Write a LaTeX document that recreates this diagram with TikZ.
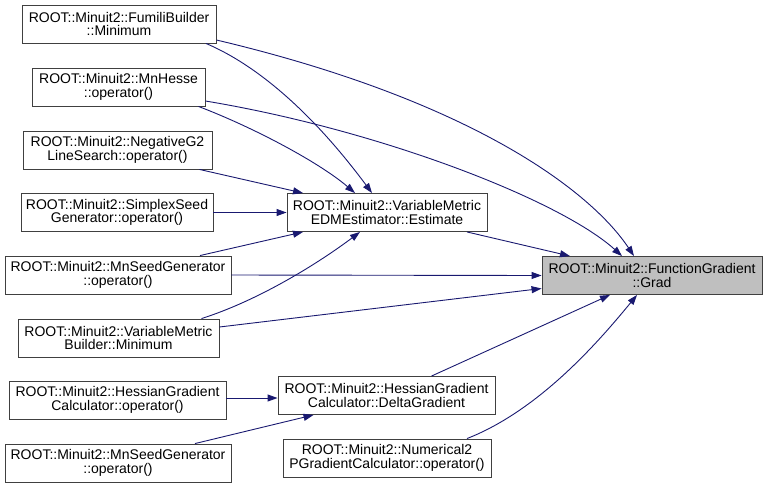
\documentclass[tikz,border=0pt]{standalone}
\usepackage{fontspec}
\setmainfont{Liberation Sans}
\usepackage{tikz}
\usetikzlibrary{arrows.meta,positioning,calc}
\definecolor{edgeblue}{HTML}{191970}
\definecolor{boxline}{HTML}{404040}
\definecolor{focusgray}{HTML}{BFBFBF}

\begin{document}
\begin{tikzpicture}[
    x=1pt, y=-1pt,
    box/.style={rectangle, draw=boxline, fill=white, line width=0.9pt, minimum height=38pt, inner sep=0pt, align=center, font=\fontsize{14}{13.5}\selectfont},
    focus/.style={box, fill=focusgray},
    arrow/.style={-{Triangle[length=10pt, width=7pt]}, draw=edgeblue, line width=0.9pt}
]
    \useasboundingbox (0,0) rectangle (766,488);

    \node[box, minimum width=194pt] (fumili) at (119,24) {ROOT::Minuit2::FumiliBuilder\\::Minimum};
    \node[box, minimum width=173pt] (hesse) at (118.5,87) {ROOT::Minuit2::MnHesse\\::operator()};
    \node[box, minimum width=189pt] (negg2) at (117.5,150) {ROOT::Minuit2::NegativeG2\\LineSearch::operator()};
    \node[box, minimum width=192pt] (simplex) at (117,212.5) {ROOT::Minuit2::SimplexSeed\\Generator::operator()};
    \node[box, minimum width=226pt] (seedA) at (118,275) {ROOT::Minuit2::MnSeedGenerator\\::operator()};
    \node[box, minimum width=201pt] (vmb) at (118.5,338) {ROOT::Minuit2::VariableMetric\\Builder::Minimum};
    \node[box, minimum width=217pt] (hgcop) at (117.5,400) {ROOT::Minuit2::HessianGradient\\Calculator::operator()};
    \node[box, minimum width=226pt] (seedB) at (118,463) {ROOT::Minuit2::MnSeedGenerator\\::operator()};

    \node[box, minimum width=200pt] (vme) at (387,212.5) {ROOT::Minuit2::VariableMetric\\EDMEstimator::Estimate};
    \node[box, minimum width=217pt] (delta) at (386.5,395.5) {ROOT::Minuit2::HessianGradient\\Calculator::DeltaGradient};
    \node[box, minimum width=208pt] (num2) at (387,458) {ROOT::Minuit2::Numerical2\\PGradientCalculator::operator()};

    \node[focus, minimum width=220pt] (grad) at (652,275.5) {ROOT::Minuit2::FunctionGradient\\::Grad};

    \draw[arrow] ([yshift=-16pt]fumili.east) .. controls (470,100) and (590,190) .. ([xshift=-18pt]grad.north);
    \draw[arrow] ([xshift=87pt]fumili.south) .. controls (280,75) and (340,150) .. ([xshift=-15pt]vme.north);
    \draw[arrow] ([yshift=-14pt]hesse.east) .. controls (380,130) and (560,200) .. ([xshift=-30pt]grad.north);
    \draw[arrow] ([xshift=80pt]hesse.south) .. controls (255,128) and (320,163) .. ([xshift=-32pt]vme.north);
    \draw[arrow] ([xshift=82pt]negg2.south) -- ([xshift=-84pt]vme.north);
    \draw[arrow] (simplex.east) -- (vme.west);
    \draw[arrow] ([xshift=82pt]seedA.north) -- ([xshift=-84pt]vme.south);
    \draw[arrow] (seedA.east) -- (grad.west);
    \draw[arrow] ([xshift=83pt]vmb.north) .. controls (260,300) and (320,262) .. ([xshift=-27pt]vme.south);
    \draw[arrow] ([yshift=11pt]vmb.east) -- ([yshift=-13pt]grad.west);
    \draw[arrow] ([xshift=80pt]vme.south) -- ([xshift=-82pt]grad.north);
    \draw[arrow] ([yshift=2pt]hgcop.east) -- ([yshift=-2.5pt]delta.west);
    \draw[arrow] ([xshift=77pt]seedB.north) -- ([xshift=-73pt]delta.south);
    \draw[arrow] ([xshift=45pt]delta.north) -- ([xshift=-42pt]grad.south);
    \draw[arrow] ([xshift=80pt]num2.north) .. controls (540,410) and (600,340) .. ([xshift=-15pt]grad.south);
\end{tikzpicture}
\end{document}
